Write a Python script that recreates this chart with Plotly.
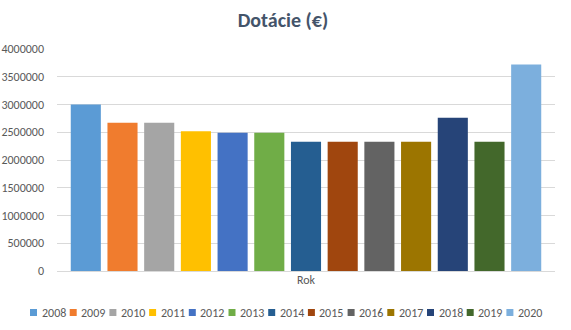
import plotly.graph_objects as go

years = ["2008", "2009", "2010", "2011", "2012", "2013", "2014",
         "2015", "2016", "2017", "2018", "2019", "2020"]
values = [3000000, 2670000, 2670000, 2520000, 2490000, 2490000, 2330000,
          2330000, 2330000, 2330000, 2760000, 2330000, 3720000]
colors = ["#5B9BD5", "#F07C2E", "#A5A5A5", "#FFC000", "#4472C4", "#70AD47", "#255E91",
          "#A0460E", "#636363", "#9C7500", "#264478", "#43682B", "#7CAFDD"]
category = ["Rok"]
yticks = [0, 500000, 1000000, 1500000, 2000000, 2500000, 3000000, 3500000, 4000000]

FONT = "Carlito, 'Liberation Sans Narrow', 'Open Sans', sans-serif"

# plot-area geometry (pixels) used to place the hand-made legend
L, R, T, B = 57, 555, 49, 271
W, H = R - L, B - T

fig = go.Figure()
for yr, v, c in zip(years, values, colors):
    fig.add_trace(go.Bar(x=category, y=[v], name=yr,
                         marker=dict(color=c, line=dict(width=0))))

# legend drawn manually (single row, tight spacing like the original)
leg_x0, leg_step, leg_y = 30, 39.7, 312.5
shapes, annotations = [], []
for i, (yr, c) in enumerate(zip(years, colors)):
    px = leg_x0 + i * leg_step
    shapes.append(dict(type="rect", xref="paper", yref="paper",
                       x0=(px - L) / W, x1=(px + 7 - L) / W,
                       y0=(B - (leg_y + 3.5)) / H, y1=(B - (leg_y - 3.5)) / H,
                       fillcolor=c, line=dict(width=0)))
    annotations.append(dict(text=yr, xref="paper", yref="paper",
                            x=(px + 9.5 - L) / W, y=(B - leg_y) / H,
                            xanchor="left", yanchor="middle", showarrow=False,
                            font=dict(size=12, color="#595959", family=FONT)))

fig.update_layout(
    width=571, height=330,
    margin=dict(l=L, r=571 - R, t=T, b=330 - B, autoexpand=False),
    paper_bgcolor="white", plot_bgcolor="white",
    barmode="group", bargap=0.042, bargroupgap=0.18,
    font=dict(family=FONT, size=12, color="#595959"),
    title=dict(text="<b>Dotácie (€)</b>", x=0.4956, xanchor="center", y=0.94, yanchor="middle",
               font=dict(size=20, color="#44546A", family=FONT)),
    showlegend=False,
    shapes=shapes, annotations=annotations,
)
fig.update_yaxes(range=[0, 4000000], tickvals=yticks, ticktext=[str(t) for t in yticks],
                 showgrid=True, gridcolor="#D9D9D9", gridwidth=1, zeroline=True,
                 zerolinecolor="#D9D9D9", zerolinewidth=1, showline=False, ticks="",
                 ticklabelstandoff=12, automargin=False,
                 tickfont=dict(size=12, color="#595959", family=FONT))
fig.update_xaxes(showgrid=False, showline=False, ticks="", automargin=False,
                 tickfont=dict(size=12, color="#595959", family=FONT))

fig.write_html("out.html")
